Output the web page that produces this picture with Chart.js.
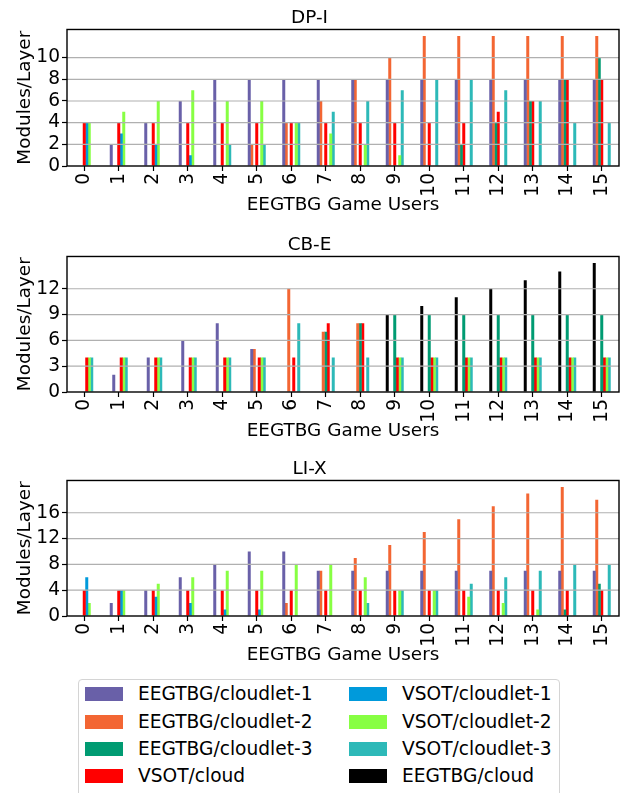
<!DOCTYPE html>
<html>
<head>
<meta charset="utf-8">
<script src="https://cdn.jsdelivr.net/npm/chart.js@4.4.0/dist/chart.umd.min.js"></script>
<style>
  html, body { margin: 0; padding: 0; background: #fff; width: 627px; height: 793px; overflow: hidden; font-family: "DejaVu Sans", sans-serif; }
  canvas.panel { position: absolute; left: 0; }
  #legend { position: absolute; left: 78px; top: 679px; width: 482px; height: 130px; border: 1px solid #d4d4d4; border-radius: 4px; box-sizing: border-box; }
  .item { position: absolute; height: 20px; font-size: 18.6px; line-height: 20px; color: #000; white-space: nowrap; }
  .item i { position: absolute; left: 0; top: 3px; width: 38px; height: 14px; }
  .item span { position: absolute; left: 53px; top: 0; }
</style>
</head>
<body>
<canvas id="dpi" class="panel"></canvas>
<canvas id="cbe" class="panel"></canvas>
<canvas id="lix" class="panel"></canvas>
<div id="legend"></div>
<script>
// 横轴：玩家数 0..15
const USERS = ["0","1","2","3","4","5","6","7","8","9","10","11","12","13","14","15"];

const COLORS = {
  "EEGTBG/cloudlet-1": "#6960a8",
  "EEGTBG/cloudlet-2": "#f36633",
  "EEGTBG/cloudlet-3": "#009b72",
  "VSOT/cloud": "#ff0000",
  "VSOT/cloudlet-1": "#009adb",
  "VSOT/cloudlet-2": "#87ff43",
  "VSOT/cloudlet-3": "#2db9b8",
  "EEGTBG/cloud": "#000000",
};

// DP-I
const dpiCloudlet1 = [0, 2, 4, 6, 8, 8, 8, 8, 8, 8, 8, 8, 8, 8, 8, 8];
const dpiCloudlet2 = [0, 0, 0, 0, 0, 2, 4, 6, 8, 10, 12, 12, 12, 12, 12, 12];
const dpiCloudlet3 = [0, 0, 0, 0, 0, 0, 0, 0, 0, 0, 0, 2, 4, 6, 8, 10];
const dpiVsotCloud = [4, 4, 4, 4, 4, 4, 4, 4, 4, 4, 4, 4, 5, 6, 8, 8];
const dpiVsot1 = [4, 3, 2, 1, 0, 0, 0, 0, 0, 0, 0, 0, 0, 0, 0, 0];
const dpiVsot2 = [4, 5, 6, 7, 6, 6, 4, 3, 2, 1, 0, 0, 0, 0, 0, 0];
const dpiVsot3 = [0, 0, 0, 0, 2, 2, 4, 5, 6, 7, 8, 8, 7, 6, 4, 4];
const dpiTicks = [0, 2, 4, 6, 8, 10];

// CB-E
const cbeCloud = [0, 0, 0, 0, 0, 0, 0, 0, 0, 9, 10, 11, 12, 13, 14, 15];
const cbeCloudlet1 = [0, 2, 4, 6, 8, 5, 0, 0, 0, 0, 0, 0, 0, 0, 0, 0];
const cbeCloudlet2 = [0, 0, 0, 0, 0, 5, 12, 7, 8, 0, 0, 0, 0, 0, 0, 0];
const cbeCloudlet3 = [0, 0, 0, 0, 0, 0, 0, 7, 8, 9, 9, 9, 9, 9, 9, 9];
const cbeVsotCloud = [4, 4, 4, 4, 4, 4, 4, 8, 8, 4, 4, 4, 4, 4, 4, 4];
const cbeVsot2 = [4, 4, 4, 4, 4, 4, 0, 0, 0, 4, 4, 4, 4, 4, 4, 4];
const cbeVsot3 = [4, 4, 4, 4, 4, 4, 8, 4, 4, 4, 4, 4, 4, 4, 4, 4];
const cbeTicks = [0, 3, 6, 9, 12];

// LI-X
const lixCloudlet1 = [0, 2, 4, 6, 8, 10, 10, 7, 7, 7, 7, 7, 7, 7, 7, 7];
const lixCloudlet2 = [0, 0, 0, 0, 0, 0, 2, 7, 9, 11, 13, 15, 17, 19, 20, 18];
const lixCloudlet3 = [0, 0, 0, 0, 0, 0, 0, 0, 0, 0, 0, 0, 0, 0, 1, 5];
const lixVsotCloud = [4, 4, 4, 4, 4, 4, 4, 4, 4, 4, 4, 4, 4, 4, 4, 4];
const lixVsot1 = [6, 4, 3, 2, 1, 1, 0, 0, 0, 0, 0, 0, 0, 0, 0, 0];
const lixVsot2 = [2, 4, 5, 6, 7, 7, 8, 8, 6, 4, 4, 3, 2, 1, 0, 0];
const lixVsot3 = [0, 0, 0, 0, 0, 0, 0, 0, 2, 4, 4, 5, 6, 7, 8, 8];
const lixTicks = [0, 4, 8, 12, 16];

const LEGEND_ORDER = [
  "EEGTBG/cloudlet-1", "EEGTBG/cloudlet-2", "EEGTBG/cloudlet-3", "VSOT/cloud",
  "VSOT/cloudlet-1", "VSOT/cloudlet-2", "VSOT/cloudlet-3", "EEGTBG/cloud",
];

Chart.defaults.font.family = "'DejaVu Sans', sans-serif";
Chart.defaults.font.size = 18;
Chart.defaults.color = "#000";

// 网格线画在柱子上面，外框四边都画
const frameOverBars = {
  id: "frameOverBars",
  afterDatasetsDraw(chart) {
    const { ctx, chartArea: a, scales } = chart;
    const y = scales.y;
    ctx.save();
    ctx.strokeStyle = "#b0b0b0";
    ctx.lineWidth = 1.2;
    y.ticks.forEach((t) => {
      if (t.value === 0) return;
      const py = y.getPixelForValue(t.value);
      ctx.beginPath();
      ctx.moveTo(a.left, py);
      ctx.lineTo(a.right, py);
      ctx.stroke();
    });
    ctx.strokeStyle = "#000";
    ctx.lineWidth = 1.4;
    ctx.strokeRect(a.left, a.top, a.right - a.left, a.bottom - a.top);
    ctx.restore();
  },
};

function bars(label, data) {
  return {
    label,
    data,
    backgroundColor: COLORS[label],
    borderWidth: 0,
    categoryPercentage: 0.507,
    barPercentage: 1.2,
  };
}

function makePanel(canvasId, title, datasets, yMax, yTicks, plotTop, plotBottom) {
  const top = plotTop - 29;
  const height = plotBottom + 52 - top;
  const canvas = document.getElementById(canvasId);
  canvas.width = 627;
  canvas.height = height;
  canvas.style.top = top + "px";

  return new Chart(canvas, {
    type: "bar",
    data: { labels: USERS, datasets },
    options: {
      responsive: false,
      animation: false,
      layout: { padding: { left: 0, right: 8, top: 0, bottom: 0 } },
      plugins: {
        legend: { display: false },
        tooltip: { enabled: false },
        title: {
          display: true,
          text: title,
          font: { size: 18.4, weight: "normal" },
          padding: { top: 7.4, bottom: 0 },
        },
      },
      scales: {
        x: {
          grid: { drawOnChartArea: false, offset: false, tickLength: 5, tickColor: "#000", tickWidth: 1.2 },
          border: { display: false },
          ticks: { autoSkip: false, maxRotation: 90, minRotation: 90, padding: 2, font: { size: 18.6 } },
          title: { display: true, text: "EEGTBG Game Users", font: { size: 18.4 }, padding: { top: 0, bottom: 1.7 } },
          afterFit: (s) => { s.height = 52; },
        },
        y: {
          min: 0,
          max: yMax,
          grid: { drawOnChartArea: false, tickLength: 5, tickColor: "#000", tickWidth: 1.2 },
          border: { display: false },
          ticks: { padding: 2, font: { size: 18.6 } },
          afterBuildTicks: (s) => { s.ticks = yTicks.map((v) => ({ value: v })); },
          title: { display: true, text: "Modules/Layer", font: { size: 18.4 }, padding: { top: 14.2, bottom: 0 } },
          afterFit: (s) => { s.width = 67; },
        },
      },
    },
    plugins: [frameOverBars],
  });
}

makePanel("dpi", "DP-I", [
  bars("EEGTBG/cloudlet-1", dpiCloudlet1),
  bars("EEGTBG/cloudlet-2", dpiCloudlet2),
  bars("EEGTBG/cloudlet-3", dpiCloudlet3),
  bars("VSOT/cloud", dpiVsotCloud),
  bars("VSOT/cloudlet-1", dpiVsot1),
  bars("VSOT/cloudlet-2", dpiVsot2),
  bars("VSOT/cloudlet-3", dpiVsot3),
], 12.6, dpiTicks, 29, 166);

makePanel("cbe", "CB-E", [
  bars("EEGTBG/cloud", cbeCloud),
  bars("EEGTBG/cloudlet-1", cbeCloudlet1),
  bars("EEGTBG/cloudlet-2", cbeCloudlet2),
  bars("EEGTBG/cloudlet-3", cbeCloudlet3),
  bars("VSOT/cloud", cbeVsotCloud),
  bars("VSOT/cloudlet-2", cbeVsot2),
  bars("VSOT/cloudlet-3", cbeVsot3),
], 15.75, cbeTicks, 255.5, 392.3);

makePanel("lix", "LI-X", [
  bars("EEGTBG/cloudlet-1", lixCloudlet1),
  bars("EEGTBG/cloudlet-2", lixCloudlet2),
  bars("EEGTBG/cloudlet-3", lixCloudlet3),
  bars("VSOT/cloud", lixVsotCloud),
  bars("VSOT/cloudlet-1", lixVsot1),
  bars("VSOT/cloudlet-2", lixVsot2),
  bars("VSOT/cloudlet-3", lixVsot3),
], 21, lixTicks, 480.3, 617);

// 图例：两列，按列排
const legend = document.getElementById("legend");
const ROW_Y = [4, 31.7, 58.7, 86];
LEGEND_ORDER.forEach((name, i) => {
  const col = Math.floor(i / 4);
  const row = i % 4;
  const el = document.createElement("div");
  el.className = "item";
  el.style.left = (col === 0 ? 6 : 270) + "px";
  el.style.top = ROW_Y[row] + "px";
  el.innerHTML = `<i style="background:${COLORS[name]}"></i><span>${name}</span>`;
  legend.appendChild(el);
});
</script>
</body>
</html>
